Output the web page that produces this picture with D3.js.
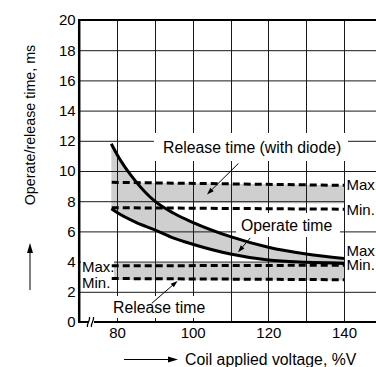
<!DOCTYPE html>
<html>
<head>
<meta charset="utf-8">
<script src="https://cdn.jsdelivr.net/npm/d3@7"></script>
<style>
  html, body { margin: 0; padding: 0; background: #fff; }
  svg { display: block; font-family: 'Liberation Sans', Arial, sans-serif; }
</style>
</head>
<body>
<svg id="chart" width="376" height="367"></svg>
<script>
/* global d3 */

// values
const voltage = [78.5, 80, 85, 90, 95, 100, 110, 120, 130, 140];
const operateMax = [11.8, 11.1, 9.3, 8.0, 7.2, 6.6, 5.65, 4.95, 4.5, 4.2];
const operateMin = [7.5, 7.25, 6.6, 6.1, 5.55, 5.15, 4.5, 4.1, 3.95, 3.88];

const bandVoltage = [78.6, 140];
const diodeMax = [9.25, 9.05];
const diodeMin = [7.57, 7.47];
const diodeShadeLow = [7.9, 7.85];
const releaseMax = [3.72, 3.76];
const releaseMin = [2.88, 2.8];
const releaseShadeHigh = [3.9, 3.9];
const releaseShadeLow = [2.78, 2.75];

const xGrid = [80, 90, 100, 110, 120, 130, 140];
const xLabels = [80, 100, 120, 140];
const yTicks = [0, 2, 4, 6, 8, 10, 12, 14, 16, 18, 20];

const svg = d3.select('#chart');
const FONT = 15;

const x = d3.scaleLinear().domain([70, 150]).range([79.2, 381.8]);
const y = d3.scaleLinear().domain([0, 20]).range([322, 20]);

const pts = (xs, ys) => xs.map((v, i) => [v, ys[i]]);

// grey shading
const bandArea = d3.area()
  .x((d) => x(d[0]))
  .y0((d) => y(d[1]))
  .y1((d) => y(d[2]));

const shade = svg.append('g').attr('fill', '#cfcfcf');
shade.append('path')
  .attr('d', bandArea(bandVoltage.map((v, i) => [v, diodeShadeLow[i], diodeMax[i]])));
shade.append('path')
  .attr('d', bandArea(bandVoltage.map((v, i) => [v, releaseShadeLow[i], releaseShadeHigh[i]])));
shade.append('path')
  .attr('d', d3.area()
    .x((d) => x(d[0]))
    .y0((d) => y(d[1]))
    .y1((d) => y(d[2]))
    .curve(d3.curveMonotoneX)(voltage.map((v, i) => [v, operateMin[i], operateMax[i]])));

// grid
const grid = svg.append('g').attr('stroke', '#1a1a1a').attr('stroke-width', 1);
grid.selectAll('line.h')
  .data(yTicks.filter((t) => t > 0 && t < 20))
  .join('line')
  .attr('class', 'h')
  .attr('x1', x(70)).attr('x2', x(150))
  .attr('y1', (d) => y(d) + 0.5).attr('y2', (d) => y(d) + 0.5);
grid.selectAll('line.v')
  .data(xGrid)
  .join('line')
  .attr('class', 'v')
  .attr('x1', (d) => Math.round(x(d)) + 0.5).attr('x2', (d) => Math.round(x(d)) + 0.5)
  .attr('y1', y(20)).attr('y2', y(0));

// white boxes behind annotations (they cut the grid)
const boxes = [
  [154, 133, 194, 28],
  [236, 213, 104, 24],
  [110, 296, 96, 22],
  [81, 257, 33, 33],
  [345, 176, 31, 42],
  [345, 244, 31, 28],
];
svg.append('g').selectAll('rect')
  .data(boxes)
  .join('rect')
  .attr('x', (d) => d[0]).attr('y', (d) => d[1])
  .attr('width', (d) => d[2]).attr('height', (d) => d[3])
  .attr('fill', '#fff');

// frame
const frame = svg.append('g').attr('stroke', '#000').attr('fill', 'none');
frame.append('line')
  .attr('x1', x(70)).attr('x2', x(150))
  .attr('y1', y(20)).attr('y2', y(20))
  .attr('stroke-width', 2);
frame.append('line')
  .attr('x1', x(70)).attr('x2', x(70))
  .attr('y1', y(20) - 1).attr('y2', y(0) + 1)
  .attr('stroke-width', 2.5);
frame.append('line')
  .attr('x1', x(70)).attr('x2', x(150))
  .attr('y1', y(0)).attr('y2', y(0))
  .attr('stroke-width', 2);

// axis break
svg.append('rect').attr('x', 88).attr('y', 318).attr('width', 6).attr('height', 8).attr('fill', '#fff');
svg.append('g')
  .attr('stroke', '#000').attr('fill', 'none').attr('stroke-width', 1.3)
  .selectAll('path')
  .data([88.5, 92.5])
  .join('path')
  .attr('d', (d) => `M${d - 1},${y(0) + 5} C${d - 2},${y(0) + 1} ${d + 2},${y(0) - 1} ${d + 1},${y(0) - 5}`);

// dashed limit lines
const straight = d3.line().x((d) => x(d[0])).y((d) => y(d[1]));
svg.append('g')
  .attr('stroke', '#000').attr('stroke-width', 3).attr('fill', 'none')
  .attr('stroke-dasharray', '7,4')
  .selectAll('path')
  .data([diodeMax, diodeMin, releaseMax, releaseMin])
  .join('path')
  .attr('d', (d) => straight(pts(bandVoltage, d)));

// operate time curves
const curve = d3.line().x((d) => x(d[0])).y((d) => y(d[1])).curve(d3.curveMonotoneX);
svg.append('g')
  .attr('stroke', '#000').attr('stroke-width', 3).attr('fill', 'none')
  .selectAll('path')
  .data([operateMax, operateMin])
  .join('path')
  .attr('d', (d) => curve(pts(voltage, d)));

// tick labels
const yAxis = svg.append('g')
  .attr('transform', `translate(${x(70)},0)`)
  .call(d3.axisLeft(y).tickValues(yTicks).tickSize(0).tickPadding(3.5));
const xAxis = svg.append('g')
  .attr('transform', `translate(0,${y(0)})`)
  .call(d3.axisBottom(x).tickValues(xLabels).tickSize(0).tickPadding(5.5));
[yAxis, xAxis].forEach((a) => {
  a.select('.domain').remove();
  a.selectAll('text')
    .attr('font-size', FONT)
    .attr('font-family', "'Liberation Sans', Arial, sans-serif")
    .attr('fill', '#000');
});

// annotation text
const notes = [
  { text: 'Release time (with diode)', x: 163, y: 153, size: 15.8 },
  { text: 'Operate time', x: 241, y: 231, size: 15.8 },
  { text: 'Release time', x: 113, y: 313, size: 15.8 },
  { text: 'Max.', x: 82, y: 271.5, size: FONT },
  { text: 'Min.', x: 82, y: 288, size: FONT },
  { text: 'Max.', x: 346.5, y: 189.5, size: FONT },
  { text: 'Min.', x: 346.5, y: 215, size: FONT },
  { text: 'Max.', x: 346.5, y: 256, size: FONT },
  { text: 'Min.', x: 346.5, y: 269.5, size: FONT },
];
svg.append('g')
  .selectAll('text')
  .data(notes)
  .join('text')
  .attr('x', (d) => d.x)
  .attr('y', (d) => d.y)
  .attr('font-size', (d) => d.size)
  .attr('fill', '#000')
  .text((d) => d.text);

// leader arrows (from, to) in data units
const leaders = [
  [[112.1, 10.5], [103.8, 8.45]],
  [[115.2, 5.56], [112.0, 4.62]],
  [[89.2, 1.24], [96.0, 2.72]],
];

function arrow(g, x1, y1, x2, y2, len, half) {
  const a = Math.atan2(y2 - y1, x2 - x1);
  g.append('line')
    .attr('x1', x1).attr('y1', y1)
    .attr('x2', x2 - Math.cos(a) * len * 0.8).attr('y2', y2 - Math.sin(a) * len * 0.8)
    .attr('stroke', '#000').attr('stroke-width', 1);
  const bx = x2 - Math.cos(a) * len;
  const by = y2 - Math.sin(a) * len;
  const px = -Math.sin(a) * half;
  const py = Math.cos(a) * half;
  g.append('path')
    .attr('d', `M${x2},${y2}L${bx + px},${by + py}L${bx - px},${by - py}Z`)
    .attr('fill', '#000');
}

const lg = svg.append('g');
leaders.forEach(([p, q]) => arrow(lg, x(p[0]), y(p[1]), x(q[0]), y(q[1]), 7, 2.4));

// axis titles
svg.append('text')
  .attr('transform', 'translate(34.5,125) rotate(-90)')
  .attr('text-anchor', 'middle')
  .attr('font-size', 14.3)
  .text('Operate/release time, ms');
arrow(svg.append('g'), 30, 290, 30, 243, 10, 3);

svg.append('text')
  .attr('x', 185)
  .attr('y', 364.5)
  .attr('font-size', 15.8)
  .text('Coil applied voltage, %V');
arrow(svg.append('g'), 124, 359.5, 178, 359.5, 10, 3);
</script>
</body>
</html>
